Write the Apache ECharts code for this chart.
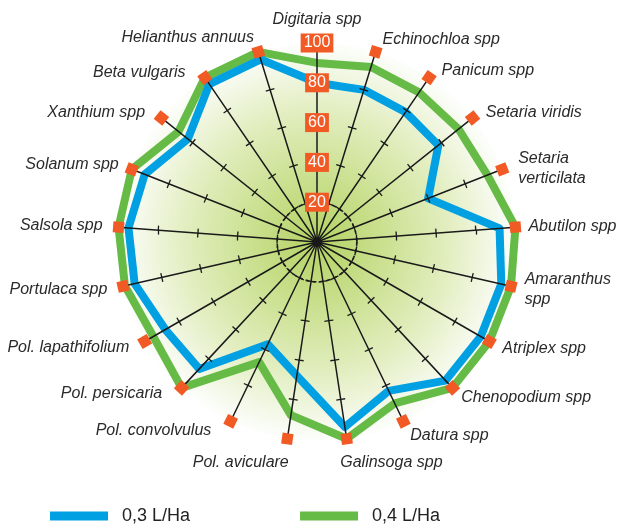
<!DOCTYPE html>
<html><head><meta charset="utf-8">
<script src="https://cdn.jsdelivr.net/npm/echarts@6/dist/echarts.min.js"></script>
<style>html,body{margin:0;padding:0;background:#fff}#c{width:620px;height:528px}</style>
</head><body><div id="c"></div><script>
// ---- data (clockwise from top) ----
const weeds = ['Digitaria spp','Echinochloa spp','Panicum spp','Setaria viridis','Setaria\nverticilata','Abutilon spp','Amaranthus\nspp','Atriplex spp','Chenopodium spp','Datura spp','Galinsoga spp','Pol. aviculare','Pol. convolvulus','Pol. persicaria','Pol. lapathifolium','Portulaca spp','Salsola spp','Solanum spp','Xanthium spp','Beta vulgaris','Helianthus annuus'];
const dose03 = [80,80,79,78,60,92,95,95,95,83,94,68,57,87,88,94,95,93,83,96,96];
const dose04 = [90,92,91,91,92,100,100,100,100,90,100,88,67,100,95,99,100,100,89,100,100];
const seriesNames = ['0,3 L/Ha','0,4 L/Ha'];
const scaleMin = 0;
const scaleMax = 100;
const scaleSteps = 5;

// ---- layout / style ----
const CX = 317, CY = 242, R = 199;
const BLUE = '#00a0e3', GREEN = '#66bb46', ORANGE = '#f15a24', INK = '#1a1a1a';
const FONT = 'Liberation Sans';
// per-axis name placement tweaks (clockwise index -> [nameGap, padding])
const namePlace = {
  0: [13, null], 1: [13, [0, 0, 0, 3]], 2: [8, [0, 0, 0, 8]], 3: [8, [0, 0, 0, 7]], 4: [1, [0, 0, 0, 15]],
  5: [13, null], 6: [14, null], 7: [15, null], 8: [13, null], 9: [16, null],
  10: [24, [0, 0, 0, -10]], 11: [24, [0, -5, 0, 0]], 12: [10, [0, 15, 0, 0]],
  13: [8, [0, 14, 0, 0]], 14: [12, [0, 5, 0, 0]], 15: [16, null], 16: [16, null],
  17: [14, null], 18: [8, [0, 10, 0, 0]], 19: [6, [0, 16, 0, 0]], 20: [15, null]
};

const n = weeds.length;
// ECharts radar runs counter-clockwise; reorder so the picture reads clockwise
const order = weeds.map((_, k) => (n - k) % n);
const reorder = arr => order.map(i => arr[i]);

const bgGrad = {type: 'radial', x: CX, y: CY, r: R + 4, global: true,
  colorStops: [{offset: 0, color: '#b3d263'}, {offset: 0.3, color: '#c9df8c'}, {offset: 0.65, color: '#e2eec0'}, {offset: 0.9, color: '#f6faee'}, {offset: 1, color: '#ffffff'}]};

const plainIndicators = () => reorder(weeds).map(w => ({name: w, min: scaleMin, max: scaleMax}));
const indicatorsFront = order.map((i) => {
  const o = {name: weeds[i], min: scaleMin, max: scaleMax, nameGap: namePlace[i][0]};
  if (namePlace[i][1]) o.nameTextStyle = {padding: namePlace[i][1]};
  if (i === 0) {
    o.axisLabel = {show: true, showMinLabel: false, margin: 0, align: 'center', verticalAlign: 'middle',
      color: '#fff', fontSize: 16, lineHeight: 16, fontFamily: FONT, backgroundColor: ORANGE, padding: [2, 3, 1, 3]};
  }
  return o;
});

const squares = weeds.map((w, i) => ({value: [scaleMax, i], symbolRotate: -i * 360 / n})).filter((d, i) => i !== 0);

const baseRadar = {center: [CX, CY], radius: R, startAngle: 90, shape: 'circle', splitNumber: scaleSteps};

const chart = echarts.init(document.getElementById('c'), null, {renderer: 'canvas'});
chart.setOption({
  animation: false,
  backgroundColor: '#fff',
  legend: {
    data: seriesNames, left: 50, top: 507, padding: 0, icon: 'rect', itemWidth: 58, itemHeight: 9, itemGap: 110,
    selectedMode: false,
    textStyle: {fontSize: 18, color: '#222', fontFamily: FONT, padding: [0, 0, 0, 9]}
  },
  radar: [
    Object.assign({}, baseRadar, {
      z: 0, indicator: plainIndicators(),
      axisName: {show: false}, axisLine: {show: false}, axisTick: {show: false}, axisLabel: {show: false},
      splitLine: {show: true, lineStyle: {color: ['transparent', '#222', 'transparent', 'transparent', 'transparent', 'transparent'], type: [4, 3], width: 1.6}},
      splitArea: {show: true, areaStyle: {color: [bgGrad]}}
    }),
    Object.assign({}, baseRadar, {
      z: 3, indicator: indicatorsFront,
      nameGap: 14,
      axisName: {color: '#2a2a2a', fontStyle: 'italic', fontSize: 16, fontFamily: FONT, lineHeight: 20},
      axisLine: {show: true, lineStyle: {color: INK, width: 1.5}},
      axisTick: {show: true, length: 4.5, lineStyle: {color: INK, width: 1.3}},
      axisLabel: {show: false}, splitLine: {show: false}, splitArea: {show: false}
    }),
    Object.assign({}, baseRadar, {
      z: 3, indicator: plainIndicators(),
      axisName: {show: false}, axisLine: {show: false},
      axisTick: {show: true, length: -4.5, lineStyle: {color: INK, width: 1.3}},
      axisLabel: {show: false}, splitLine: {show: false}, splitArea: {show: false}
    })
  ],
  polar: {center: [CX, CY], radius: R},
  angleAxis: {type: 'category', data: weeds, startAngle: 90, clockwise: true, boundaryGap: false, show: false},
  radiusAxis: {min: scaleMin, max: scaleMax, show: false},
  series: [
    {
      type: 'radar', name: seriesNames[1], radarIndex: 1, z: 2, symbol: 'none', color: GREEN,
      itemStyle: {color: GREEN}, lineStyle: {color: GREEN, width: 8},
      data: [{name: seriesNames[1], value: reorder(dose04)}]
    },
    {
      type: 'radar', name: seriesNames[0], radarIndex: 1, z: 2, symbol: 'none', color: BLUE,
      itemStyle: {color: BLUE}, lineStyle: {color: BLUE, width: 8},
      data: [{name: seriesNames[0], value: reorder(dose03)}]
    },
    {
      type: 'scatter', coordinateSystem: 'polar', z: 6, symbol: 'rect', symbolSize: 11,
      itemStyle: {color: ORANGE, opacity: 1}, data: squares, silent: true
    }
  ]
});
</script></body></html>
